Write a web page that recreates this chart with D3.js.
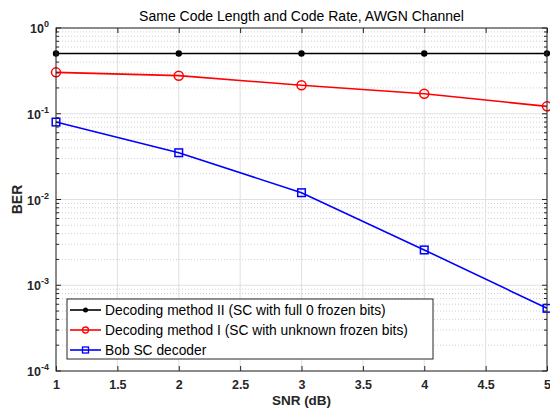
<!DOCTYPE html>
<html>
<head>
<meta charset="utf-8">
<script src="https://cdn.jsdelivr.net/npm/d3@7"></script>
<style>
  body { margin: 0; background: #fff; }
  svg { font-family: "Liberation Sans", Arial, Helvetica, sans-serif; }
</style>
</head>
<body>
<svg width="550" height="410"></svg>
<script>
var snr = [1, 2, 3, 4, 5];
var berMethod2 = [0.505, 0.505, 0.505, 0.505, 0.505];
var berMethod1 = [0.304, 0.278, 0.215, 0.171, 0.122];
var berBob = [0.080, 0.0351, 0.0120, 0.00258, 0.000538];
var xTicks = [1, 1.5, 2, 2.5, 3, 3.5, 4, 4.5, 5];
var yDecades = [-4, -3, -2, -1, 0];

var series = [
  { name: "Decoding method II (SC with full 0 frozen bits)", values: berMethod2, color: "#000000", marker: "dot" },
  { name: "Decoding method I (SC with unknown frozen bits)", values: berMethod1, color: "#ff0000", marker: "circle" },
  { name: "Bob SC decoder", values: berBob, color: "#0000ff", marker: "square" }
];

var svg = d3.select("svg"),
    margin = { top: 28, right: 3, bottom: 39, left: 56 },
    width = +svg.attr("width") - margin.left - margin.right,
    height = +svg.attr("height") - margin.top - margin.bottom;

var x = d3.scaleLinear().domain([1, 5]).range([0, width]);
var y = d3.scaleLog().domain([1e-4, 1]).range([height, 0]);

var g = svg.append("g").attr("transform", "translate(" + margin.left + "," + margin.top + ")");

// minor values for log axis
var minors = [];
yDecades.slice(0, -1).forEach(function(e) {
  for (var k = 2; k <= 9; k++) minors.push(k * Math.pow(10, e));
});
var majors = yDecades.map(function(e) { return Math.pow(10, e); });

// grid
var grid = g.append("g");
grid.selectAll(".minor").data(minors).enter().append("line")
  .attr("x1", 0).attr("x2", width)
  .attr("y1", function(d) { return y(d); }).attr("y2", function(d) { return y(d); })
  .attr("stroke", "#d0d0d0").attr("stroke-width", 1).attr("stroke-dasharray", "1,2");
grid.selectAll(".majory").data(majors).enter().append("line")
  .attr("x1", 0).attr("x2", width)
  .attr("y1", function(d) { return y(d); }).attr("y2", function(d) { return y(d); })
  .attr("stroke", "#e0e0e0").attr("stroke-width", 1);
grid.selectAll(".majorx").data(xTicks).enter().append("line")
  .attr("y1", 0).attr("y2", height)
  .attr("x1", function(d) { return x(d); }).attr("x2", function(d) { return x(d); })
  .attr("stroke", "#e0e0e0").attr("stroke-width", 1);

// series lines and markers
var line = d3.line()
  .x(function(d, i) { return x(snr[i]); })
  .y(function(d) { return y(d); });

series.forEach(function(s) {
  g.append("path").datum(s.values)
    .attr("d", line)
    .attr("fill", "none").attr("stroke", s.color).attr("stroke-width", 1.6);
  var m = g.append("g").selectAll(".m").data(s.values).enter();
  if (s.marker === "dot") {
    m.append("circle").attr("cx", function(d, i) { return x(snr[i]); }).attr("cy", function(d) { return y(d); })
      .attr("r", 3.2).attr("fill", s.color);
  } else if (s.marker === "circle") {
    m.append("circle").attr("cx", function(d, i) { return x(snr[i]); }).attr("cy", function(d) { return y(d); })
      .attr("r", 4.5).attr("fill", "none").attr("stroke", s.color).attr("stroke-width", 1.5);
  } else {
    m.append("rect").attr("x", function(d, i) { return x(snr[i]) - 3.8; }).attr("y", function(d) { return y(d) - 3.8; })
      .attr("width", 7.6).attr("height", 7.6).attr("fill", "none").attr("stroke", s.color).attr("stroke-width", 1.5);
  }
});

// axes (box with inward ticks)
var axisColor = "#262626";
var xBottom = d3.axisBottom(x).tickValues(xTicks).tickSizeInner(-5).tickSizeOuter(0).tickPadding(9)
  .tickFormat(function(d) { return d; });
var gx = g.append("g").attr("transform", "translate(0," + height + ")").call(xBottom);
gx.select(".domain").remove();
gx.selectAll("line").attr("stroke", axisColor);
gx.selectAll("text").attr("fill", axisColor).style("font-size", "12.5px").style("font-weight", "bold");

var gxTop = g.append("g").call(d3.axisTop(x).tickValues(xTicks).tickSizeInner(-5).tickSizeOuter(0).tickFormat(""));
gxTop.select(".domain").remove();
gxTop.selectAll("line").attr("stroke", axisColor);

function yTicksOn(sel, dir) {
  sel.selectAll(".ymaj").data(majors).enter().append("line")
    .attr("x1", 0).attr("x2", dir * 5)
    .attr("y1", function(d) { return y(d); }).attr("y2", function(d) { return y(d); })
    .attr("stroke", axisColor);
  sel.selectAll(".ymin").data(minors).enter().append("line")
    .attr("x1", 0).attr("x2", dir * 3)
    .attr("y1", function(d) { return y(d); }).attr("y2", function(d) { return y(d); })
    .attr("stroke", axisColor);
}
yTicksOn(g.append("g"), 1);
yTicksOn(g.append("g").attr("transform", "translate(" + width + ",0)"), -1);

// y tick labels: 10^e
var yl = g.append("g").selectAll(".yl").data(yDecades).enter().append("text")
  .attr("x", -7).attr("y", function(e) { return y(Math.pow(10, e)) + 5; })
  .attr("text-anchor", "end").attr("fill", axisColor)
  .style("font-size", "12.5px").style("font-weight", "bold");
yl.append("tspan").text("10");
yl.append("tspan").attr("dy", -6).style("font-size", "9px").text(function(e) { return e; });

// box
g.append("rect").attr("width", width).attr("height", height)
  .attr("fill", "none").attr("stroke", axisColor).attr("stroke-width", 1);

// labels
svg.append("text").attr("x", margin.left + width / 2).attr("y", 21)
  .attr("text-anchor", "middle").attr("fill", "#000").style("font-size", "14px")
  .text("Same Code Length and Code Rate, AWGN Channel");
svg.append("text").attr("x", margin.left + width / 2).attr("y", 405)
  .attr("text-anchor", "middle").attr("fill", axisColor).style("font-size", "13.5px").style("font-weight", "bold")
  .text("SNR (dB)");
svg.append("text").attr("transform", "translate(22," + (margin.top + height / 2) + ") rotate(-90)")
  .attr("text-anchor", "middle").attr("fill", axisColor).style("font-size", "14px").style("font-weight", "bold")
  .text("BER");

// legend
var lg = svg.append("g").attr("transform", "translate(67,299)");
lg.append("rect").attr("width", 366).attr("height", 60)
  .attr("fill", "#fff").attr("stroke", axisColor).attr("stroke-width", 1);
series.forEach(function(s, i) {
  var ry = 11 + i * 20;
  var row = lg.append("g").attr("transform", "translate(0," + ry + ")");
  row.append("line").attr("x1", 3).attr("x2", 34).attr("y1", 0).attr("y2", 0)
    .attr("stroke", s.color).attr("stroke-width", 1.6);
  if (s.marker === "dot") {
    row.append("circle").attr("cx", 18.5).attr("cy", 0).attr("r", 2.5).attr("fill", s.color);
  } else if (s.marker === "circle") {
    row.append("circle").attr("cx", 18.5).attr("cy", 0).attr("r", 3).attr("fill", "none").attr("stroke", s.color).attr("stroke-width", 1.3);
  } else {
    row.append("rect").attr("x", 15.5).attr("y", -3).attr("width", 6).attr("height", 6)
      .attr("fill", "none").attr("stroke", s.color).attr("stroke-width", 1.3);
  }
  row.append("text").attr("x", 38).attr("y", 5).attr("fill", "#000").style("font-size", "13.8px").text(s.name);
});
</script>
</body>
</html>
